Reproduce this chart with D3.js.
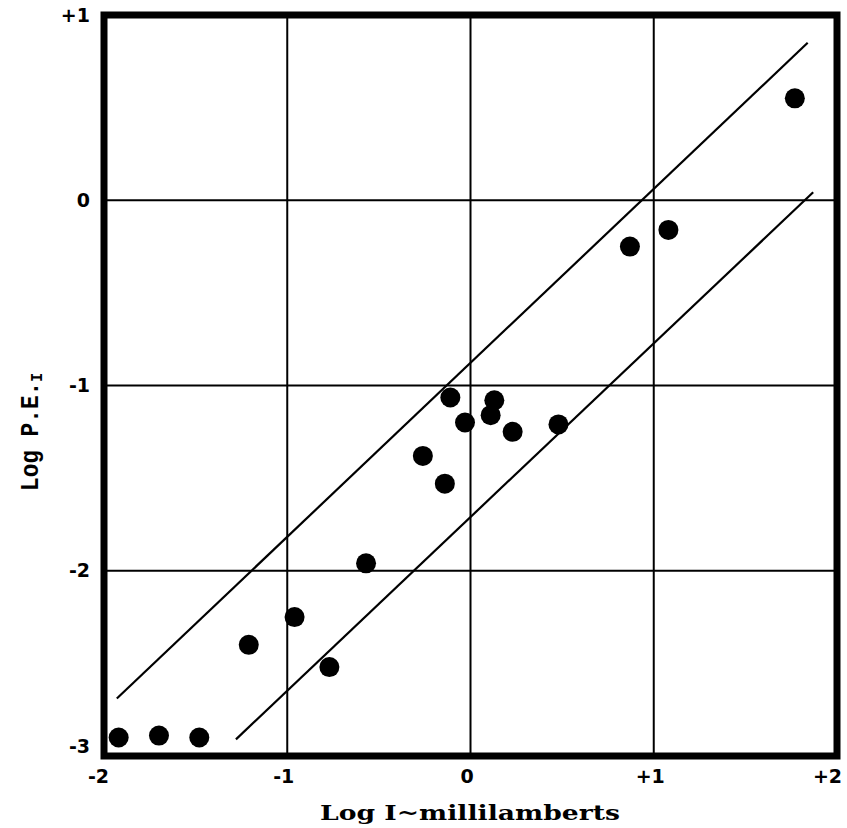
<!DOCTYPE html>
<html>
<head>
<meta charset="utf-8">
<script src="https://cdn.jsdelivr.net/npm/d3@7"></script>
<style>
  html, body { margin: 0; padding: 0; background: #fff; }
  svg { display: block; }
</style>
</head>
<body>
<svg id="chart" width="847" height="828"></svg>
<script>
// ---- data ----
const xTicks = [-2, -1, 0, 1, 2];
const yTicks = [-3, -2, -1, 0, 1];
const xTickLabels = ["-2", "-1", "0", "+1", "+2"];
const yTickLabels = ["-3", "-2", "-1", "0", "+1"];
const logI =   [-1.92, -1.70, -1.48, -1.21, -0.96, -0.77, -0.57, -0.26, -0.14, -0.11, -0.03, 0.13, 0.11, 0.23, 0.48, 0.87, 1.08, 1.77];
const logPEI = [-2.90, -2.89, -2.90, -2.40, -2.25, -2.52, -1.96, -1.38, -1.53, -1.065, -1.20, -1.08, -1.16, -1.25, -1.21, -0.25, -0.16, 0.55];
const upperBandX = [-1.93, 1.84];
const upperBandY = [-2.69, 0.85];
const lowerBandX = [-1.28, 1.87];
const lowerBandY = [-2.91, 0.043];
const xTitle = "Log I~millilamberts";
const yTitleMain = "Log P.E.";
const yTitleSub = "I";

// ---- drawing ----
const svg = d3.select("#chart");
const x = d3.scaleLinear().domain([-2, 2]).range([104, 837]);
const y = d3.scaleLinear().domain([-3, 1]).range([756, 15]);

// grid lines
svg.append("g").selectAll("line.vx")
  .data(xTicks.filter(d => d > -2 && d < 2)).join("line")
  .attr("x1", d => x(d)).attr("x2", d => x(d))
  .attr("y1", y(1)).attr("y2", y(-3))
  .attr("stroke", "#000").attr("stroke-width", 2);
svg.append("g").selectAll("line.hy")
  .data(yTicks.filter(d => d > -3 && d < 1)).join("line")
  .attr("x1", x(-2)).attr("x2", x(2))
  .attr("y1", d => y(d)).attr("y2", d => y(d))
  .attr("stroke", "#000").attr("stroke-width", 2);

// band lines
const line = d3.line().x(d => x(d[0])).y(d => y(d[1]));
const bands = [
  d3.zip(upperBandX, upperBandY),
  d3.zip(lowerBandX, lowerBandY)
];
svg.append("g").selectAll("path").data(bands).join("path")
  .attr("d", line).attr("fill", "none")
  .attr("stroke", "#000").attr("stroke-width", 2.2);

// points
svg.append("g").selectAll("circle").data(d3.zip(logI, logPEI)).join("circle")
  .attr("cx", d => x(d[0])).attr("cy", d => y(d[1]))
  .attr("r", 10).attr("fill", "#000");

// frame
svg.append("rect")
  .attr("x", x(-2)).attr("y", y(1))
  .attr("width", x(2) - x(-2)).attr("height", y(-3) - y(1))
  .attr("fill", "none").attr("stroke", "#000").attr("stroke-width", 7);

// axes (ticks as labels only)
const xAxis = d3.axisBottom(x).tickValues(xTicks)
  .tickFormat((d, i) => xTickLabels[i]).tickSize(0).tickPadding(14);
const gx = svg.append("g").attr("transform", `translate(0,${y(-3)})`).call(xAxis);
gx.select(".domain").remove();
gx.selectAll("text")
  .attr("font-family", "'DejaVu Sans', sans-serif")
  .attr("font-weight", "bold").attr("font-size", 19).attr("fill", "#000")
  .attr("dx", (d, i) => i === 0 ? -6 : (i === 4 ? -10 : -4));

const yAxis = d3.axisLeft(y).tickValues(yTicks)
  .tickFormat((d, i) => yTickLabels[i]).tickSize(0).tickPadding(14);
const gy = svg.append("g").attr("transform", `translate(${x(-2)},0)`).call(yAxis);
gy.select(".domain").remove();
gy.selectAll("text")
  .attr("font-family", "'DejaVu Sans', sans-serif")
  .attr("font-weight", "bold").attr("font-size", 19).attr("fill", "#000")
  .attr("dy", (d, i) => i === 0 ? "-0.2em" : "0.32em");

// x title
svg.append("text")
  .attr("x", 470).attr("y", 820)
  .attr("text-anchor", "middle")
  .attr("font-family", "'DejaVu Serif', serif")
  .attr("font-weight", "bold").attr("font-size", 20)
  .attr("textLength", 300).attr("lengthAdjust", "spacingAndGlyphs")
  .text(xTitle);

// y title
const yt = svg.append("text")
  .attr("transform", "translate(38,432) rotate(-90)")
  .attr("text-anchor", "middle")
  .attr("font-family", "'Liberation Mono', 'DejaVu Sans Mono', monospace")
  .attr("font-weight", "bold")
  .attr("font-size", 25)
  .attr("textLength", 118).attr("lengthAdjust", "spacingAndGlyphs");
yt.append("tspan").text(yTitleMain);
yt.append("tspan").attr("font-size", 16).attr("dy", 4).text(yTitleSub);
</script>
</body>
</html>
